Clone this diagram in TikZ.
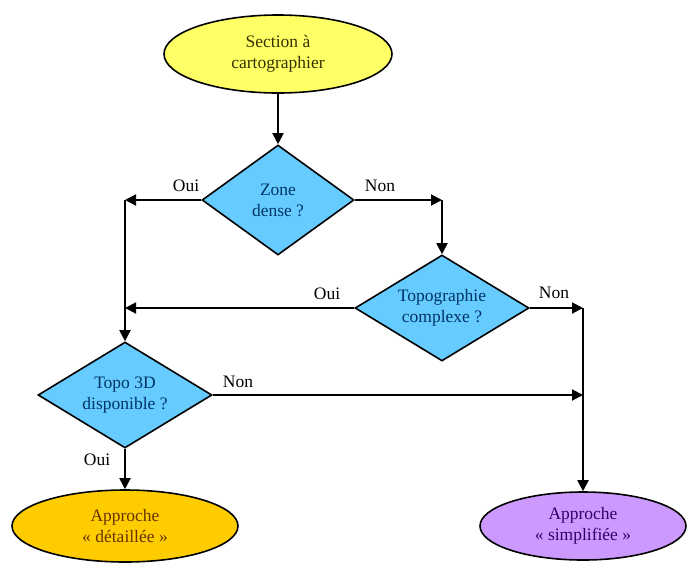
\documentclass[tikz,border=0pt]{standalone}
\usepackage{fontspec}
\setmainfont{Liberation Serif}
\usetikzlibrary{shapes.geometric,arrows.meta}
\definecolor{yel}{HTML}{FFFF66}
\definecolor{ora}{HTML}{FFCC00}
\definecolor{blu}{HTML}{66CCFF}
\definecolor{pur}{HTML}{CC99FF}
\definecolor{yeltxt}{HTML}{333300}
\definecolor{blutxt}{HTML}{003366}
\definecolor{oratxt}{HTML}{663300}
\definecolor{purtxt}{HTML}{330066}
\tikzset{
  base/.style={draw=black, line width=1.6pt, inner sep=0pt, align=center,
    font=\fontsize{17.5}{21}\selectfont},
  term/.style={base, ellipse},
  decision/.style={base, diamond, fill=blu, text=blutxt},
  arr/.style={draw=black, line width=1.9pt, -{Triangle[length=11pt,width=11pt]}},
  lbl/.style={font=\fontsize{17.5}{21}\selectfont, text=black, inner sep=0pt}
}
\begin{document}
\begin{tikzpicture}[x=1pt,y=-1pt]
\useasboundingbox (0,0) rectangle (687,563);
% nodes
\node[term, fill=yel, text=yeltxt, minimum width=228pt, minimum height=78pt] (start) at (278,54) {Section à\\cartographier};
\node[decision, aspect=1.38, minimum width=152pt, minimum height=110pt] (d1) at (278,200) {Zone\\dense ?};
\node[decision, aspect=1.64, minimum width=174pt, minimum height=106pt] (d2) at (442,308) {Topographie\\complexe ?};
\node[decision, aspect=1.64, minimum width=174pt, minimum height=106pt] (d3) at (125,395) {Topo 3D\\disponible ?};
\node[term, fill=ora, text=oratxt, minimum width=226pt, minimum height=72pt] (det) at (125,526) {Approche\\« détaillée »};
\node[term, fill=pur, text=purtxt, minimum width=206pt, minimum height=68pt] (simp) at (583,526) {Approche\\« simplifiée »};
% corner coordinates
\coordinate (c1) at (442,200);
\coordinate (c2) at (125,200);
\coordinate (c3) at (125,308);
\coordinate (c4) at (583,308);
\coordinate (c5) at (583,395);
% connectors
\draw[arr] (start) -- (d1);
\draw[arr] (d1.east) -- (c1);
\draw[arr] (c1) -- (d2.north);
\draw[arr] (d1.west) -- (c2);
\draw[arr] (c2) -- (d3.north);
\draw[arr] (d2.west) -- (c3);
\draw[arr] (d2.east) -- (c4);
\draw[arr] (c4) -- (simp.north);
\draw[arr] (d3.east) -- (c5);
\draw[arr] (d3.south) -- (det.north);
% labels
\node[lbl] (l1) at (186,186) {Oui};
\node[lbl] (l2) at (380,186) {Non};
\node[lbl] (l3) at (327,294) {Oui};
\node[lbl] (l4) at (554,293) {Non};
\node[lbl] (l5) at (238,382) {Non};
\node[lbl] (l6) at (97,460) {Oui};
\end{tikzpicture}
\end{document}
